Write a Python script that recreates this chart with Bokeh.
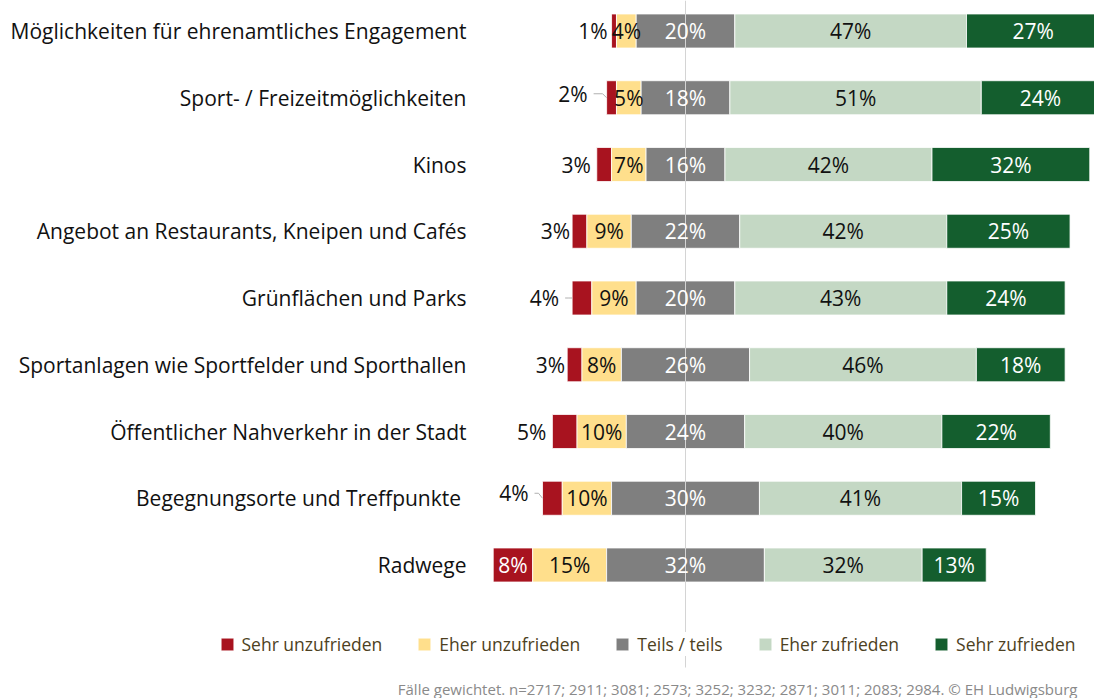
from bokeh.plotting import figure
from bokeh.models import Range1d, Legend, LegendItem, ColumnDataSource
from bokeh.core.properties import value
from bokeh.embed import file_html
from bokeh.resources import INLINE

# ---------------- data ----------------
categories = [
    "Möglichkeiten für ehrenamtliches Engagement",
    "Sport- / Freizeitmöglichkeiten",
    "Kinos",
    "Angebot an Restaurants, Kneipen und Cafés",
    "Grünflächen und Parks",
    "Sportanlagen wie Sportfelder und Sporthallen",
    "Öffentlicher Nahverkehr in der Stadt",
    "Begegnungsorte und Treffpunkte ",
    "Radwege",
]
sehr_unzufrieden = [1, 2, 3, 3, 4, 3, 5, 4, 8]
eher_unzufrieden = [4, 5, 7, 9, 9, 8, 10, 10, 15]
teils_teils = [20, 18, 16, 22, 20, 26, 24, 30, 32]
eher_zufrieden = [47, 51, 42, 42, 43, 46, 40, 41, 32]
sehr_zufrieden = [27, 24, 32, 25, 24, 18, 22, 15, 13]
series_names = ["Sehr unzufrieden", "Eher unzufrieden", "Teils / teils",
                "Eher zufrieden", "Sehr zufrieden"]
footer_text = ("Fälle gewichtet. n=2717; 2911; 3081; 2573; 3252; 3232; 2871; "
               "3011; 2083; 2984. © EH Ludwigsburg")

# ---------------- styling ----------------
colors = ["#a8131f", "#ffdf8c", "#7f7f7f", "#c4d8c4", "#145e2e"]
label_colors = ["#ffffff", "#111111", "#ffffff", "#111111", "#ffffff"]
FONT = "Open Sans"
LINE_COLOR = "#d4d4d4"

W, H = 1094, 698
PX_PER_PCT = 4.93
CENTER_PX = 685           # px where neutral midpoint lies
ROW_PX = 66.75
FIRST_ROW_PX = 30.5       # px from top
CAT_RIGHT_PX = 466        # right edge of category labels
LINE_END_PX = 667         # bottom end of centre line
FOOTER_RIGHT_PX = 1077
FOOTER_Y_PX = 688

x_start = -CENTER_PX / PX_PER_PCT
x_end = (W - CENTER_PX) / PX_PER_PCT
n = len(categories)
y_top = (n - 1) + FIRST_ROW_PX / ROW_PX
y_bot = y_top - H / ROW_PX


def xpx(px):
    return (px - CENTER_PX) / PX_PER_PCT


def ypx(px):
    return y_top - px / ROW_PX


# outside-label offsets for small "Sehr unzufrieden" values (px)
red_dx = [-4, -19, -6, -2, -13, -2, -6, -14, 0]
red_dy = [0, -4, 0, 0, 0, 0, 0, -5, 0]
red_leader = [False, True, False, False, True, False, False, True, False]

p = figure(width=W, height=H, x_range=Range1d(x_start, x_end),
           y_range=Range1d(y_bot, y_top), output_backend="svg",
           toolbar_location=None, x_axis_location=None, y_axis_location=None,
           min_border_left=0, min_border_right=0,
           min_border_top=0, min_border_bottom=0)
p.outline_line_color = None
p.grid.visible = False
p.background_fill_color = "white"

ys = [n - 1 - i for i in range(n)]
series = [sehr_unzufrieden, eher_unzufrieden, teils_teils, eher_zufrieden, sehr_zufrieden]

lefts = []
for i in range(n):
    start = -(sehr_unzufrieden[i] + eher_unzufrieden[i] + teils_teils[i] / 2)
    row = []
    cur = start
    for s in series:
        row.append((cur, cur + s[i]))
        cur += s[i]
    lefts.append(row)

renderers = []
for k, s in enumerate(series):
    src = ColumnDataSource(dict(
        y=ys,
        left=[lefts[i][k][0] for i in range(n)],
        right=[lefts[i][k][1] for i in range(n)],
    ))
    r = p.hbar(y="y", left="left", right="right", height=0.51, source=src,
               fill_color=colors[k], line_color="white", line_width=0.8)
    renderers.append(r)

# centre line (continues behind the legend)
p.segment(x0=[0], y0=[y_top], x1=[0], y1=[ypx(LINE_END_PX)],
          line_color=LINE_COLOR, line_width=1)

# category labels
p.text(x=[xpx(CAT_RIGHT_PX)] * n, y=ys, text=categories,
       text_align="right", text_baseline="middle",
       text_font=value(FONT), text_font_size=value("21px"),
       text_color=value("#111111"))

# segment labels
for k, s in enumerate(series):
    xs, yy, tt = [], [], []
    for i in range(n):
        if k == 0 and s[i] < 6:
            continue
        a, b = lefts[i][k]
        xs.append((a + b) / 2)
        yy.append(ys[i])
        tt.append(f"{s[i]}%")
    p.text(x=xs, y=yy, text=tt, text_align="center", text_baseline="middle",
           text_font=value(FONT), text_font_size=value("21px"),
           text_color=value(label_colors[k]))

# outside labels for small red values, with leader lines
ox, oy, ot = [], [], []
lx, ly = [], []
for i in range(n):
    v = sehr_unzufrieden[i]
    if v >= 6:
        continue
    bar_start = lefts[i][0][0]
    lab_x = bar_start + red_dx[i] / PX_PER_PCT
    lab_y = ys[i] - red_dy[i] / ROW_PX
    ox.append(lab_x)
    oy.append(lab_y)
    ot.append(f"{v}%")
    if red_leader[i]:
        lx.append([lab_x + 6 / PX_PER_PCT, bar_start - 4 / PX_PER_PCT, bar_start])
        ly.append([lab_y, lab_y, ys[i]])
p.multi_line(xs=lx, ys=ly, line_color="#b0b0b0", line_width=1)
p.text(x=ox, y=oy, text=ot, text_align="right", text_baseline="middle",
       text_font=value(FONT), text_font_size=value("21px"),
       text_color=value("#111111"))

# legend
legend = Legend(
    items=[LegendItem(label=series_names[k], renderers=[renderers[k]]) for k in range(5)],
    orientation="horizontal",
    location=(218.5, 42),
    glyph_width=16, glyph_height=16, label_standoff=7, spacing=34,
    padding=3, margin=0,
    border_line_color=None, background_fill_color="white", background_fill_alpha=1,
    label_text_font=FONT, label_text_font_size="17.5px", label_text_color="#4d4122",
)
p.add_layout(legend)

# footer
p.text(x=[xpx(FOOTER_RIGHT_PX)], y=[ypx(FOOTER_Y_PX)], text=[footer_text],
       text_align="right", text_baseline="middle",
       text_font=value(FONT), text_font_size=value("15px"), text_color=value("#8a8a8a"))

open("out.html", "w").write(file_html(p, INLINE))
